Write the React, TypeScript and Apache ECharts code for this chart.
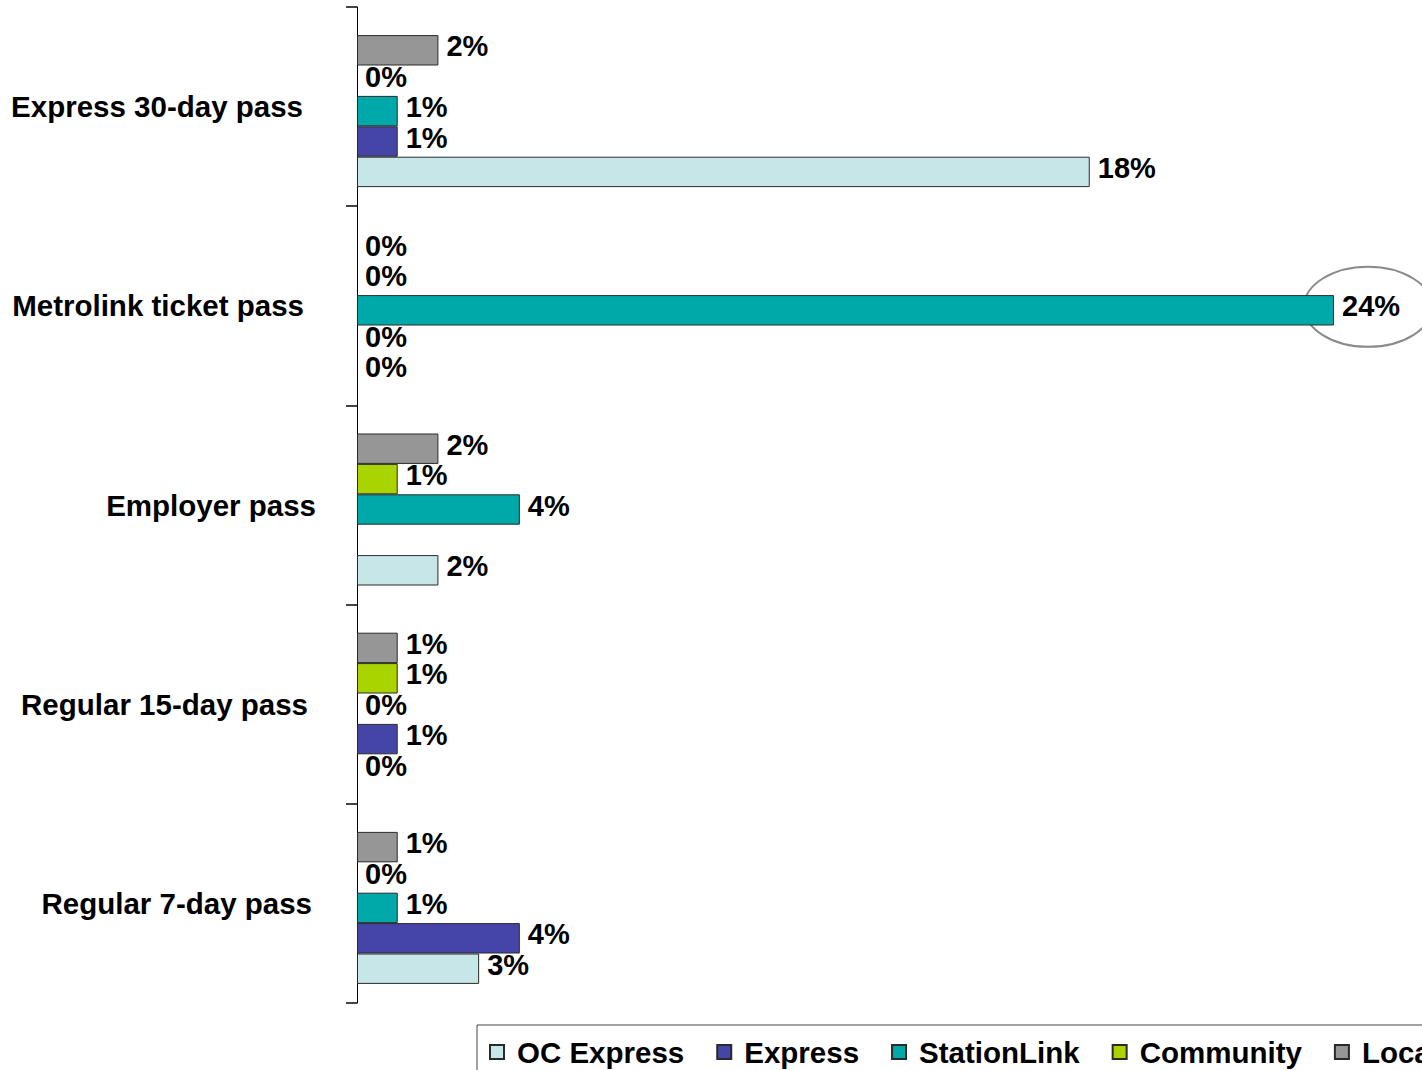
import React, { useEffect, useRef } from 'react';
import * as echarts from 'echarts';

// Categories, top to bottom
const categories = [
  'Express 30-day pass',
  'Metrolink ticket pass',
  'Employer pass',
  'Regular 15-day pass',
  'Regular 7-day pass',
];

// Legend order
const legendNames = ['OC Express', 'Express', 'StationLink', 'Community', 'Local'];

// Values in percent, one per category (top to bottom); null = no value
const ocExpress = [18, 0, 2, 0, 3];
const express = [1, 0, null, 1, 4];
const stationLink = [1, 24, 4, 0, 1];
const community = [0, 0, 1, 1, 0];
const local = [2, 0, 2, 1, 1];

const highlightValue = 24;
const highlightCategory = 'Metrolink ticket pass';

const colors: Record<string, string> = {
  'OC Express': '#C6E6E8',
  Express: '#4545A8',
  StationLink: '#00A9A9',
  Community: '#A9D400',
  Local: '#969696',
};

const valuesByName: Record<string, (number | null)[]> = {
  'OC Express': ocExpress,
  Express: express,
  StationLink: stationLink,
  Community: community,
  Local: local,
};

// right padding for each category label (Excel's uneven label placement)
const labelPad = [13, 12, 0, 8, 4];

const FONT = "'Liberation Sans', Arial, Helvetica, sans-serif";

export default function App() {
  const ref = useRef<HTMLDivElement>(null);

  useEffect(() => {
    if (!ref.current) return;
    const chart = echarts.init(ref.current, undefined, { renderer: 'svg' });

    const drawOrder = ['Local', 'Community', 'StationLink', 'Express', 'OC Express'];

    const barSeries = drawOrder.map((name) => ({
      name,
      type: 'bar',
      data: valuesByName[name].map((v) =>
        v === 0 ? { value: v, itemStyle: { borderWidth: 0 } } : v
      ),
      barWidth: 30.4,
      barGap: '0%',
      itemStyle: { color: colors[name], borderColor: '#2a2a2a', borderWidth: 1 },
      label: {
        show: true,
        position: 'right',
        distance: 8,
        offset: [0, -4],
        formatter: (p: any) => (p.value == null ? '' : p.value + '%'),
        fontSize: 29,
        fontWeight: 'bold',
        fontFamily: FONT,
        color: '#000',
      },
      emphasis: { disabled: true },
    }));

    const padSeries = {
      name: '_pad',
      type: 'bar',
      data: categories.map(() => null),
      barWidth: 9,
      barGap: '0%',
      silent: true,
      itemStyle: { color: 'transparent' },
    };

    const rich: Record<string, any> = {};
    labelPad.forEach((p, i) => {
      rich['c' + i] = {
        fontSize: 29.5,
        fontWeight: 'bold',
        fontFamily: FONT,
        color: '#000',
        padding: [0, p, 0, 0],
      };
    });

    chart.setOption({
      animation: false,
      backgroundColor: '#fff',
      grid: { left: 357, top: 7, width: 977, height: 996, containLabel: false },
      xAxis: {
        type: 'value',
        min: 0,
        max: 24,
        show: false,
        splitLine: { show: false },
      },
      yAxis: {
        type: 'category',
        data: categories,
        inverse: true,
        axisLine: { show: true, lineStyle: { color: '#000', width: 1 } },
        axisTick: { show: true, length: 11, lineStyle: { color: '#444', width: 2 } },
        axisLabel: {
          margin: 41,
          align: 'right',
          fontSize: 29.5,
          fontWeight: 'bold',
          fontFamily: FONT,
          color: '#000',
          formatter: (v: string) => `{c${categories.indexOf(v)}|${v}}`,
          rich,
        },
        splitLine: { show: false },
      },
      legend: {
        data: legendNames,
        left: 477,
        top: 1025,
        orient: 'horizontal',
        padding: [12, 12, 12, 12],
        itemWidth: 14,
        itemHeight: 14,
        itemGap: 32,
        icon: 'rect',
        selectedMode: false,
        borderColor: '#444',
        borderWidth: 1,
        textStyle: {
          fontSize: 29.5,
          fontWeight: 'bold',
          fontFamily: FONT,
          color: '#000',
          padding: [0, 0, 0, 8],
        },
      },
      series: [padSeries, ...barSeries],
    });

    const pt = chart.convertToPixel({ gridIndex: 0 }, [
      highlightValue,
      categories.indexOf(highlightCategory),
    ]) as number[];
    if (pt && isFinite(pt[0])) {
      chart.setOption({
        graphic: [
          {
            type: 'ellipse',
            silent: true,
            shape: { cx: pt[0] + 34, cy: pt[1] + 1, rx: 64, ry: 40 },
            style: { fill: 'none', stroke: '#8a8a8a', lineWidth: 2 },
          },
        ],
      });
    }

    return () => chart.dispose();
  }, []);

  return (
    <div
      style={{
        position: 'absolute',
        left: 0,
        top: 0,
        width: 1422,
        height: 1070,
        overflow: 'hidden',
        background: '#fff',
      }}
    >
      <div ref={ref} style={{ width: 1600, height: 1100 }} />
    </div>
  );
}
